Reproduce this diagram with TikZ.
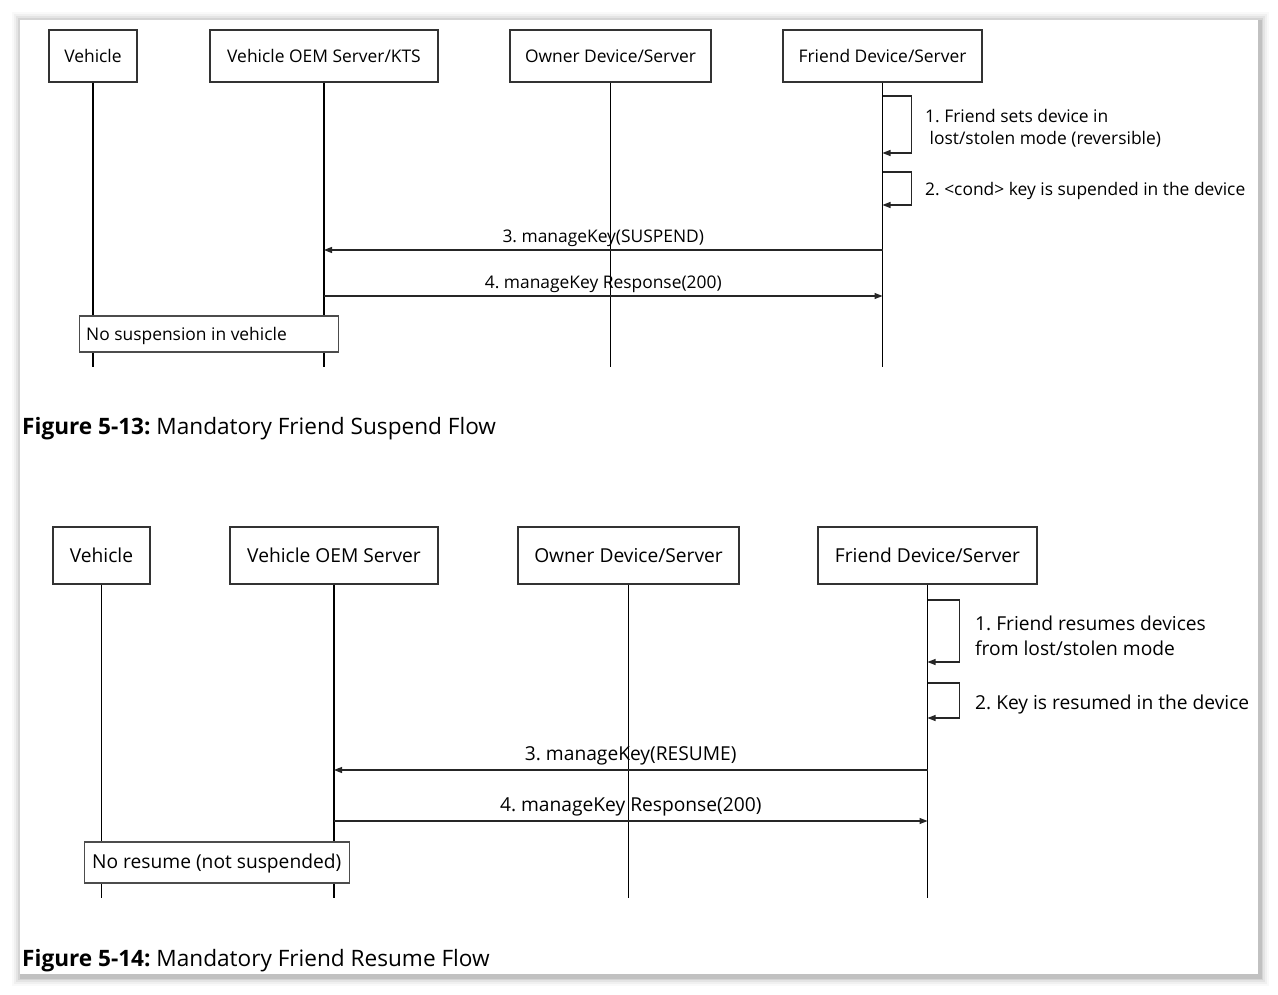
\documentclass[tikz,border=0pt]{standalone}
\usepackage{fontspec}
\setmainfont{Open Sans}
\usetikzlibrary{arrows.meta}
\frenchspacing
\begin{document}
\begin{tikzpicture}[x=1pt,y=-1pt,
  actorA/.style={draw=black!80, line width=1.3pt, fill=white, minimum height=52pt, inner sep=0pt, font=\fontsize{17.4}{20}\selectfont},
  actorB/.style={draw=black!80, line width=1.3pt, fill=white, minimum height=57pt, inner sep=0pt, font=\fontsize{19.2}{22}\selectfont},
  life/.style={draw=black, line width=1.2pt},
  msg/.style={draw=black!85, line width=1.1pt, -{Triangle[length=8pt,width=6pt]}},
  noteA/.style={draw=black!70, line width=1.2pt, fill=white, anchor=west, inner sep=0pt},
  lblA/.style={font=\fontsize{17.4}{20}\selectfont, inner sep=0pt},
  lblB/.style={font=\fontsize{19.2}{22}\selectfont, inner sep=0pt},
  capt/.style={font=\fontsize{22.6}{26}\selectfont, anchor=base west, inner sep=0pt}
]
\useasboundingbox (0,0) rectangle (1278,994);
% page with shadow
\foreach \d/\o in {9/0.025,7/0.035,5/0.05,3/0.07,1.5/0.09}
  \fill[black,opacity=\o] (20-\d+1,20-\d+1) rectangle (1258+\d+2,974+\d+3);
\fill[white] (20,20) rectangle (1258,974);

% ---------------- Figure 5-13 ----------------
\node[actorA, minimum width=88pt]  (va) at (93,56)    {Vehicle};
\node[actorA, minimum width=228pt] (ka) at (324,56)   {Vehicle OEM Server/KTS};
\node[actorA, minimum width=201pt] (oa) at (610.5,56) {Owner Device/Server};
\node[actorA, minimum width=199pt] (fa) at (882.5,56) {Friend Device/Server};

\coordinate (endA) at (0,367);
\draw[life] (va.south) -- (va.south |- endA);
\draw[life] (ka.south) -- (ka.south |- endA);
\draw[life] (oa.south) -- (oa.south |- endA);
\draw[life] (fa.south) -- (fa.south |- endA);

\coordinate (a1s) at (0,96);  \coordinate (a1e) at (0,153);
\coordinate (a2s) at (0,172); \coordinate (a2e) at (0,205);
\coordinate (a3) at (0,250);  \coordinate (a4) at (0,296);

\draw[msg] (fa.south |- a1s) -- ++(29,0) |- (fa.south |- a1e);
\draw[msg] (fa.south |- a2s) -- ++(29,0) |- (fa.south |- a2e);
\node[lblA, anchor=west] (ta1) at (925,116) {1. Friend sets device in};
\node[lblA, anchor=west] (ta1b) at (925,139) {\ lost/stolen mode (reversible)};
\node[lblA, anchor=west] (ta2) at (925,191) {2. <cond> key is supended in the device};

\draw[msg] (fa.south |- a3) -- node[lblA, above=2.5pt] (ta3) {3. manageKey(SUSPEND)} (ka.south |- a3);
\draw[msg] (ka.south |- a4) -- node[lblA, above=2.5pt] (ta4) {4. manageKey Response(200)} (fa.south |- a4);

\node[noteA, minimum width=259pt, minimum height=36pt] (na) at (79,334) {};
\node[lblA, anchor=west] (nat) at (86,336) {No suspension in vehicle};

\node[capt] (ca) at (22,434) {\textbf{Figure 5-13:} Mandatory Friend Suspend Flow};

% ---------------- Figure 5-14 ----------------
\node[actorB, minimum width=97pt]  (vb) at (101.5,555.5) {Vehicle};
\node[actorB, minimum width=208pt] (kb) at (334,555.5)   {Vehicle OEM Server};
\node[actorB, minimum width=221pt] (ob) at (628.5,555.5) {Owner Device/Server};
\node[actorB, minimum width=219pt] (fb) at (927.5,555.5) {Friend Device/Server};

\coordinate (endB) at (0,898);
\draw[life] (vb.south) -- (vb.south |- endB);
\draw[life] (kb.south) -- (kb.south |- endB);
\draw[life] (ob.south) -- (ob.south |- endB);
\draw[life] (fb.south) -- (fb.south |- endB);

\coordinate (b1s) at (0,600); \coordinate (b1e) at (0,662);
\coordinate (b2s) at (0,683); \coordinate (b2e) at (0,718);
\coordinate (b3) at (0,770);  \coordinate (b4) at (0,821);

\draw[msg] (fb.south |- b1s) -- ++(32,0) |- (fb.south |- b1e);
\draw[msg] (fb.south |- b2s) -- ++(32,0) |- (fb.south |- b2e);
\node[lblB, anchor=west] (tb1) at (975,623) {1. Friend resumes devices};
\node[lblB, anchor=west] (tb1b) at (975,648) {from lost/stolen mode};
\node[lblB, anchor=west] (tb2) at (975,705) {2. Key is resumed in the device};

\draw[msg] (fb.south |- b3) -- node[lblB, above=4pt] (tb3) {3. manageKey(RESUME)} (kb.south |- b3);
\draw[msg] (kb.south |- b4) -- node[lblB, above=4pt] (tb4) {4. manageKey Response(200)} (fb.south |- b4);

\node[noteA, minimum width=265pt, minimum height=41pt] (nb) at (84,862.5) {};
\node[lblB, anchor=west] (nbt) at (92,864) {No resume (not suspended)};

\node[capt] (cb) at (22,966) {\textbf{Figure 5-14:} Mandatory Friend Resume Flow};
\end{tikzpicture}
\end{document}
